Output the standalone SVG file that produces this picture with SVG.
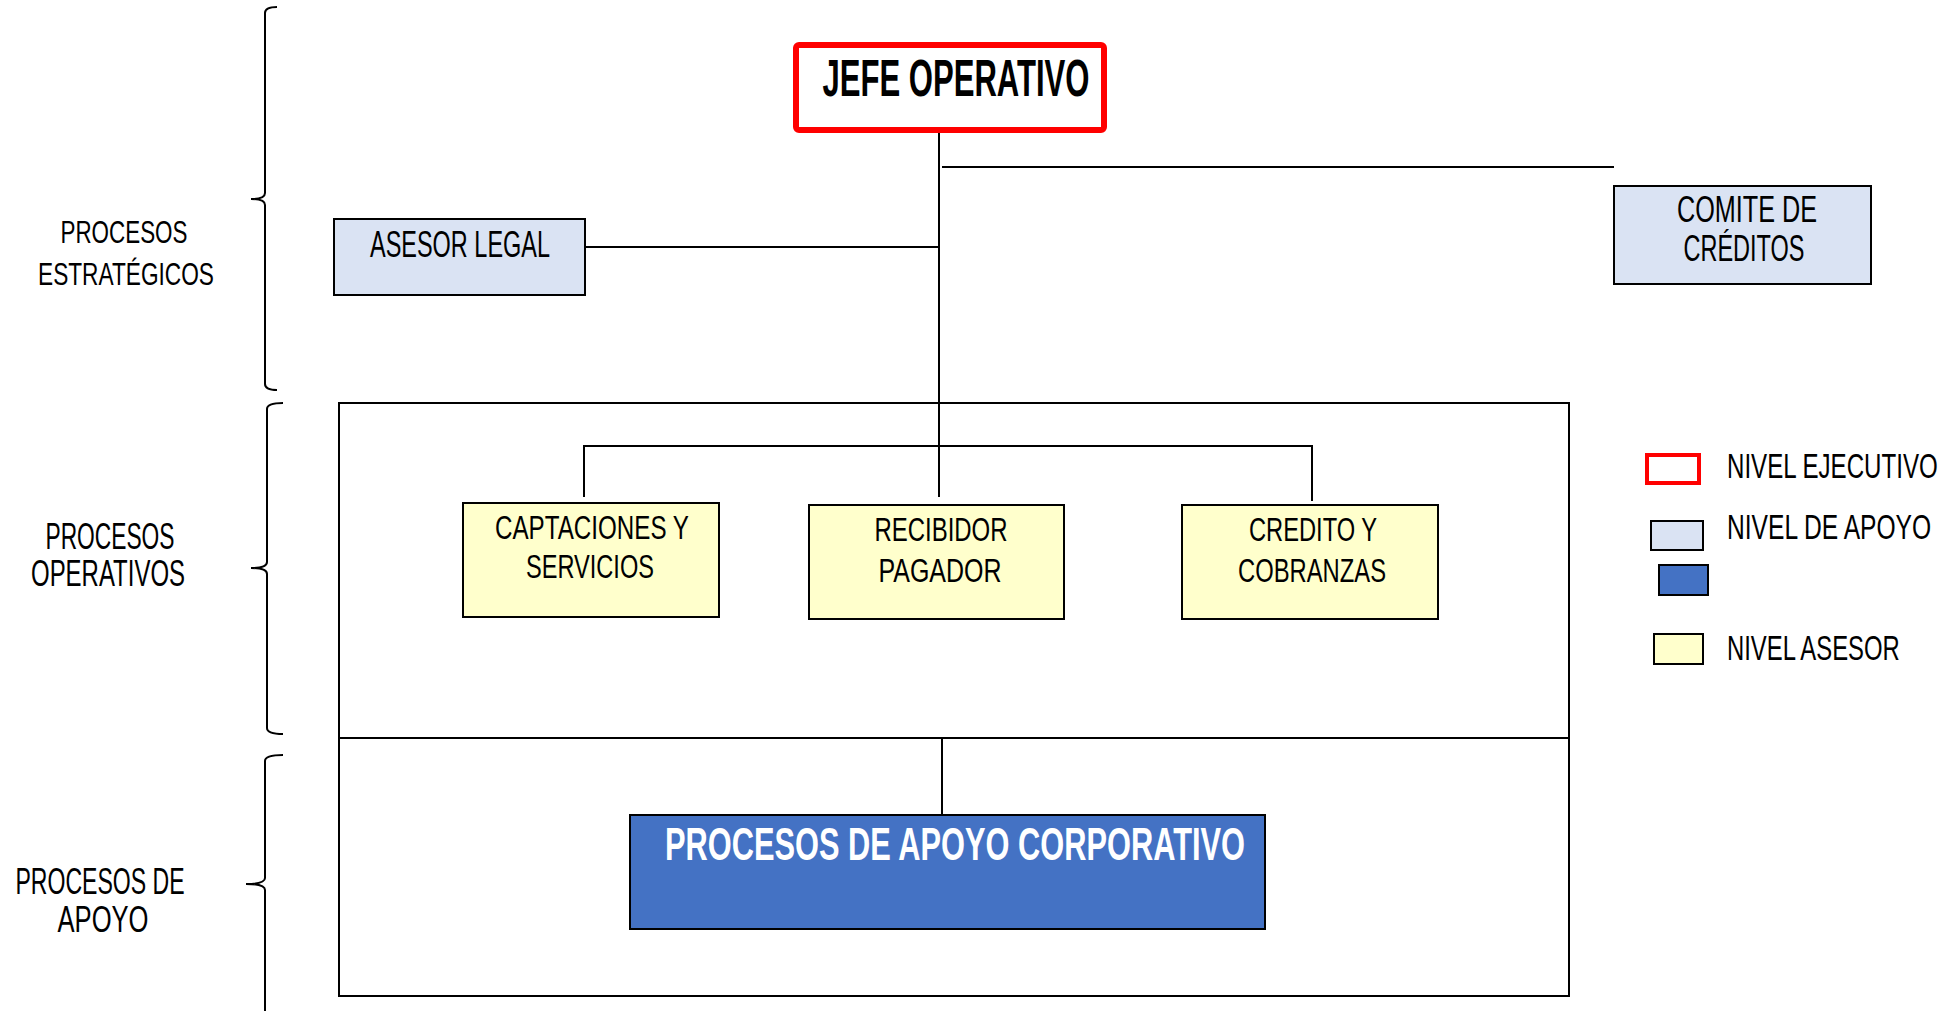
<svg xmlns="http://www.w3.org/2000/svg" width="1960" height="1011" viewBox="0 0 1960 1011">
<style>
text{font-family:"Liberation Sans",Arial,sans-serif;fill:#000}
.m{text-anchor:middle}
.b{font-weight:bold}
.ln{stroke:#000;stroke-width:2;fill:none}
.br{stroke:#000;stroke-width:2;fill:none}
.sup{fill:#dae3f3;stroke:#000;stroke-width:2}
.ase{fill:#ffffcc;stroke:#000;stroke-width:2}
.cor{fill:#4472c4;stroke:#000;stroke-width:2}
</style>
<rect width="1960" height="1011" fill="#fff"/>

<g id="braces">
<path class="br" d="M277 7 Q265 7 265 13 L265 193 Q265 199 251 199 Q265 199 265 205 L265 384 Q265 390 277 390"/>
<path class="br" d="M283 403 Q267 403 267 409 L267 562 Q267 568 251 568 Q267 568 267 574 L267 728 Q267 734 283 734"/>
<path class="br" d="M283 755 Q265 755 265 761 L265 878 Q265 884 246 884 Q265 884 265 890 L265 1011"/>
</g>

<g id="labels">
<text class="m" x="124" y="243" font-size="31" textLength="127" lengthAdjust="spacingAndGlyphs">PROCESOS</text>
<text class="m" x="126" y="285" font-size="31" textLength="176" lengthAdjust="spacingAndGlyphs">ESTRATÉGICOS</text>
<text class="m" x="110" y="549" font-size="37" textLength="129" lengthAdjust="spacingAndGlyphs">PROCESOS</text>
<text class="m" x="108" y="586" font-size="37" textLength="154" lengthAdjust="spacingAndGlyphs">OPERATIVOS</text>
<text class="m" x="100" y="894" font-size="37" textLength="169" lengthAdjust="spacingAndGlyphs">PROCESOS DE</text>
<text class="m" x="103" y="932" font-size="37" textLength="91" lengthAdjust="spacingAndGlyphs">APOYO</text>
</g>

<g id="frame">
<rect x="339" y="403" width="1230" height="593" fill="none" stroke="#000" stroke-width="2"/>
<line class="ln" x1="339" y1="738" x2="1569" y2="738"/>
</g>

<g id="connectors">
<line class="ln" x1="939" y1="133" x2="939" y2="497"/>
<line class="ln" x1="942" y1="167" x2="1614" y2="167"/>
<line class="ln" x1="585" y1="247" x2="939" y2="247"/>
<line class="ln" x1="584" y1="446" x2="1312" y2="446"/>
<line class="ln" x1="584" y1="445" x2="584" y2="497"/>
<line class="ln" x1="1312" y1="445" x2="1312" y2="501"/>
<line class="ln" x1="942" y1="738" x2="942" y2="815"/>
</g>

<g id="jefe-operativo">
<rect x="796" y="45" width="308" height="85" rx="3" fill="#fff" stroke="#ff0000" stroke-width="6"/>
<text class="m b" x="956" y="96" font-size="52" textLength="267" lengthAdjust="spacingAndGlyphs">JEFE OPERATIVO</text>
</g>

<g id="asesor-legal">
<rect class="sup" x="334" y="219" width="251" height="76"/>
<text class="m" x="460" y="257" font-size="37" textLength="180" lengthAdjust="spacingAndGlyphs">ASESOR LEGAL</text>
</g>

<g id="comite-creditos">
<rect class="sup" x="1614" y="186" width="257" height="98"/>
<text class="m" x="1747" y="222" font-size="36" textLength="140" lengthAdjust="spacingAndGlyphs">COMITE DE</text>
<text class="m" x="1744" y="261" font-size="36" textLength="121" lengthAdjust="spacingAndGlyphs">CRÉDITOS</text>
</g>

<g id="captaciones">
<rect class="ase" x="463" y="503" width="256" height="114"/>
<text class="m" x="592" y="539" font-size="34" textLength="194" lengthAdjust="spacingAndGlyphs">CAPTACIONES Y</text>
<text class="m" x="590" y="578" font-size="34" textLength="128" lengthAdjust="spacingAndGlyphs">SERVICIOS</text>
</g>

<g id="recibidor">
<rect class="ase" x="809" y="505" width="255" height="114"/>
<text class="m" x="941" y="541" font-size="34" textLength="133" lengthAdjust="spacingAndGlyphs">RECIBIDOR</text>
<text class="m" x="940" y="582" font-size="34" textLength="123" lengthAdjust="spacingAndGlyphs">PAGADOR</text>
</g>

<g id="credito">
<rect class="ase" x="1182" y="505" width="256" height="114"/>
<text class="m" x="1313" y="541" font-size="34" textLength="128" lengthAdjust="spacingAndGlyphs">CREDITO Y</text>
<text class="m" x="1312" y="582" font-size="34" textLength="148" lengthAdjust="spacingAndGlyphs">COBRANZAS</text>
</g>

<g id="apoyo-corporativo">
<rect class="cor" x="630" y="815" width="635" height="114"/>
<text class="m b" x="955" y="860" font-size="46" style="fill:#fff" textLength="580" lengthAdjust="spacingAndGlyphs">PROCESOS DE APOYO CORPORATIVO</text>
</g>

<g id="legend">
<rect x="1647" y="455" width="52" height="28" fill="#fff" stroke="#ff0000" stroke-width="4"/>
<text transform="translate(1727,478) scale(0.667,1)" x="0" y="0" font-size="36" textLength="316" lengthAdjust="spacingAndGlyphs">NIVEL EJECUTIVO</text>
<rect class="sup" x="1651" y="521" width="52" height="29"/>
<text transform="translate(1727,539) scale(0.667,1)" x="0" y="0" font-size="36" textLength="306" lengthAdjust="spacingAndGlyphs">NIVEL DE APOYO</text>
<rect class="cor" x="1659" y="565" width="49" height="30"/>
<rect class="ase" x="1654" y="634" width="49" height="30"/>
<text transform="translate(1727,660) scale(0.667,1)" x="0" y="0" font-size="36" textLength="259" lengthAdjust="spacingAndGlyphs">NIVEL ASESOR</text>
</g>
</svg>
